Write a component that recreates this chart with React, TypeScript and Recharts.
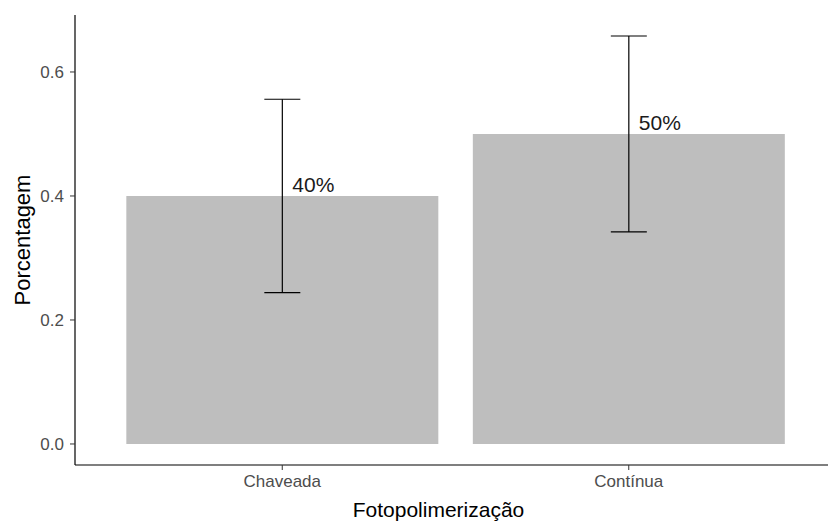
import React from "react";
import {
	Bar,
	BarChart,
	ErrorBar,
	LabelList,
	XAxis,
	YAxis,
} from "recharts";

const categories = ["Chaveada", "Contínua"];
const proportions = [0.4, 0.5];
const errors = [0.156, 0.158];
const pctLabels = ["40%", "50%"];
const yTicks = [0, 0.2, 0.4, 0.6];

const data = categories.map((name, i) => ({
	name,
	value: proportions[i],
	err: errors[i],
	pct: pctLabels[i],
}));

const font = "'Liberation Sans', Arial, sans-serif";

function PctLabel(props: any) {
	const { x, y, width, value } = props;
	return (
		<text
			x={x + width / 2 + 10}
			y={y - 4}
			textAnchor="start"
			fontSize={21}
			fontFamily={font}
			fill="#1a1a1a"
		>
			{value}
		</text>
	);
}

export default function App() {
	return (
		<div style={{ position: "absolute", left: 0, top: 0, background: "#fff" }}>
			<BarChart
				width={828}
				height={521}
				data={data}
				margin={{ top: 15, right: 0, left: 0, bottom: 0 }}
				barCategoryGap="5%"
			>
				<XAxis
					dataKey="name"
					height={56}
					padding={{ left: 34, right: 26 }}
					tickSize={5}
					tickMargin={5}
					tick={{ fill: "#4d4d4d", fontSize: 17, fontFamily: font }}
					axisLine={{ stroke: "#000", strokeWidth: 1.2 }}
					tickLine={{ stroke: "#333" }}
					label={{
						value: "Fotopolimerização",
						position: "insideBottom",
						offset: 4,
						fill: "#000",
						fontSize: 21,
						fontFamily: font,
						dx: -13,
					}}
				/>
				<YAxis
					width={75}
					domain={[-0.0339, 0.6919]}
					ticks={yTicks}
					tickFormatter={(v: number) => v.toFixed(1)}
					tickSize={5}
					tickMargin={6}
					tick={{ fill: "#4d4d4d", fontSize: 17, fontFamily: font }}
					axisLine={{ stroke: "#000", strokeWidth: 1.2 }}
					tickLine={{ stroke: "#333" }}
					label={{
						value: "Porcentagem",
						angle: -90,
						position: "insideLeft",
						offset: 22,
						fill: "#000",
						fontSize: 22,
						fontFamily: font,
						style: { textAnchor: "middle" },
					}}
				/>
				<Bar dataKey="value" fill="#bebebe" isAnimationActive={false}>
					<ErrorBar
						dataKey="err"
						width={18}
						stroke="#000"
						strokeWidth={1.2}
						direction="y"
					/>
					<LabelList dataKey="pct" content={PctLabel} />
				</Bar>
			</BarChart>
		</div>
	);
}
